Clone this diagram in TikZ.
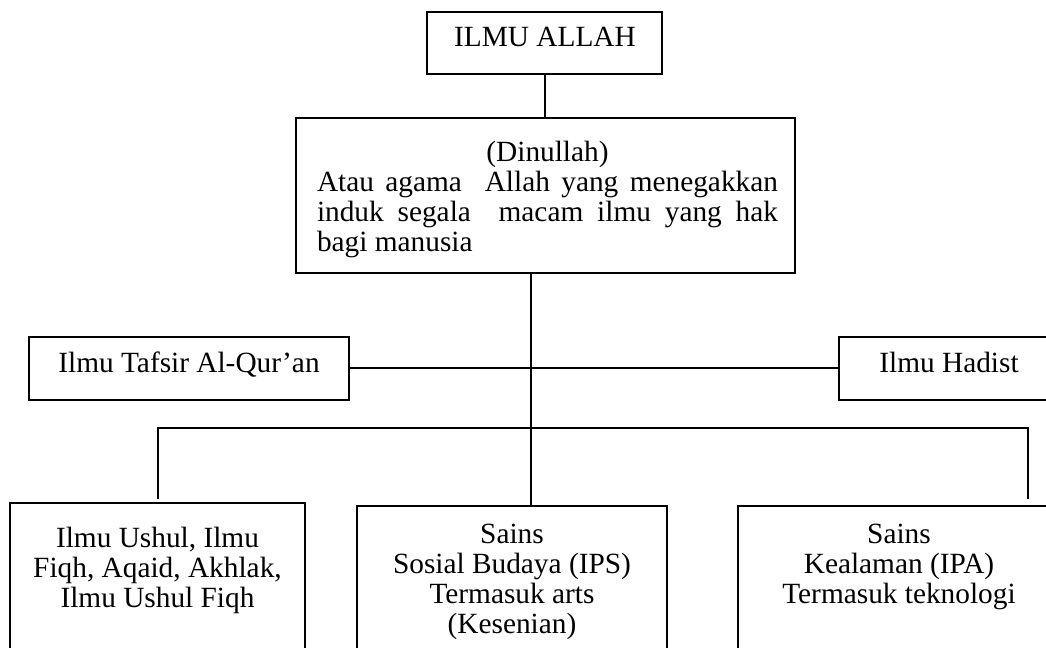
\documentclass[tikz,border=0pt]{standalone}
\usepackage{fontspec}
\setmainfont{Liberation Serif}
\usetikzlibrary{fit}
\tikzset{
  box/.style={draw, line width=1.5pt, inner sep=0pt, rectangle},
  conn/.style={line width=1.5pt},
  txt/.style={inner sep=0pt, anchor=base, align=center, font=\fontsize{22}{22.5}\selectfont},
}
\begin{document}
\begin{tikzpicture}[x=0.75pt, y=-0.75pt]
\useasboundingbox (0,0) rectangle (1046,648);
\fill[white] (0,0) rectangle (1046,648);
\clip (0,0) rectangle (1046,648);
% boxes
\node[box, fit={(427,12) (662,74)}] (top) {};
\node[box, fit={(296,118) (795,273)}] (din) {};
\node[box, fit={(29,337) (349,400)}] (taf) {};
\node[box, fit={(839,337) (1062,400)}] (had) {};
\node[box, fit={(10,503) (305,670)}] (lbox) {};
\node[box, fit={(357,506) (667,670)}] (mbox) {};
\node[box, fit={(738,506) (1062,670)}] (rbox) {};
% texts (base anchor = baseline of last line)
\node[txt] (ttop) at (545,47) {ILMU ALLAH};
\node[txt] (tdin) at (547.5,252)
  {\hbox to 345.75pt{\hfil(Dinullah)\hfil}\\
   \hbox to 345.75pt{Atau agama\ \ Allah yang menegakkan}\\
   \hbox to 345.75pt{induk segala\ \ macam ilmu yang hak}\\
   \hbox to 345.75pt{bagi manusia\hfil}};
\node[txt] (ttaf) at (189,373) {Ilmu Tafsir Al-Qur’an};
\node[txt] (thad) at (949,373) {Ilmu Hadist};
\node[txt] (tl) at (157.5,607) {Ilmu Ushul, Ilmu\\Fiqh, Aqaid, Akhlak,\\Ilmu Ushul Fiqh};
\node[txt] (tm) at (512,633) {Sains\\Sosial Budaya (IPS)\\Termasuk arts\\(Kesenian)};
\node[txt] (tr) at (899,603) {Sains\\Kealaman (IPA)\\Termasuk teknologi};
% connectors
\coordinate (trunk) at (531,300);
\coordinate (busL) at (158,428);
\coordinate (busR) at (1028,428);
\coordinate (lEnd) at (158,499);
\coordinate (rEnd) at (1028,499);
\draw[conn] (top.south) -- (top.south |- din.north);
\draw[conn] (trunk |- din.south) -- (trunk |- mbox.north);
\draw[conn] (taf.east) -- (had.west);
\draw[conn] (lEnd) -- (busL) -- (busR) -- (rEnd);
\end{tikzpicture}
\end{document}
